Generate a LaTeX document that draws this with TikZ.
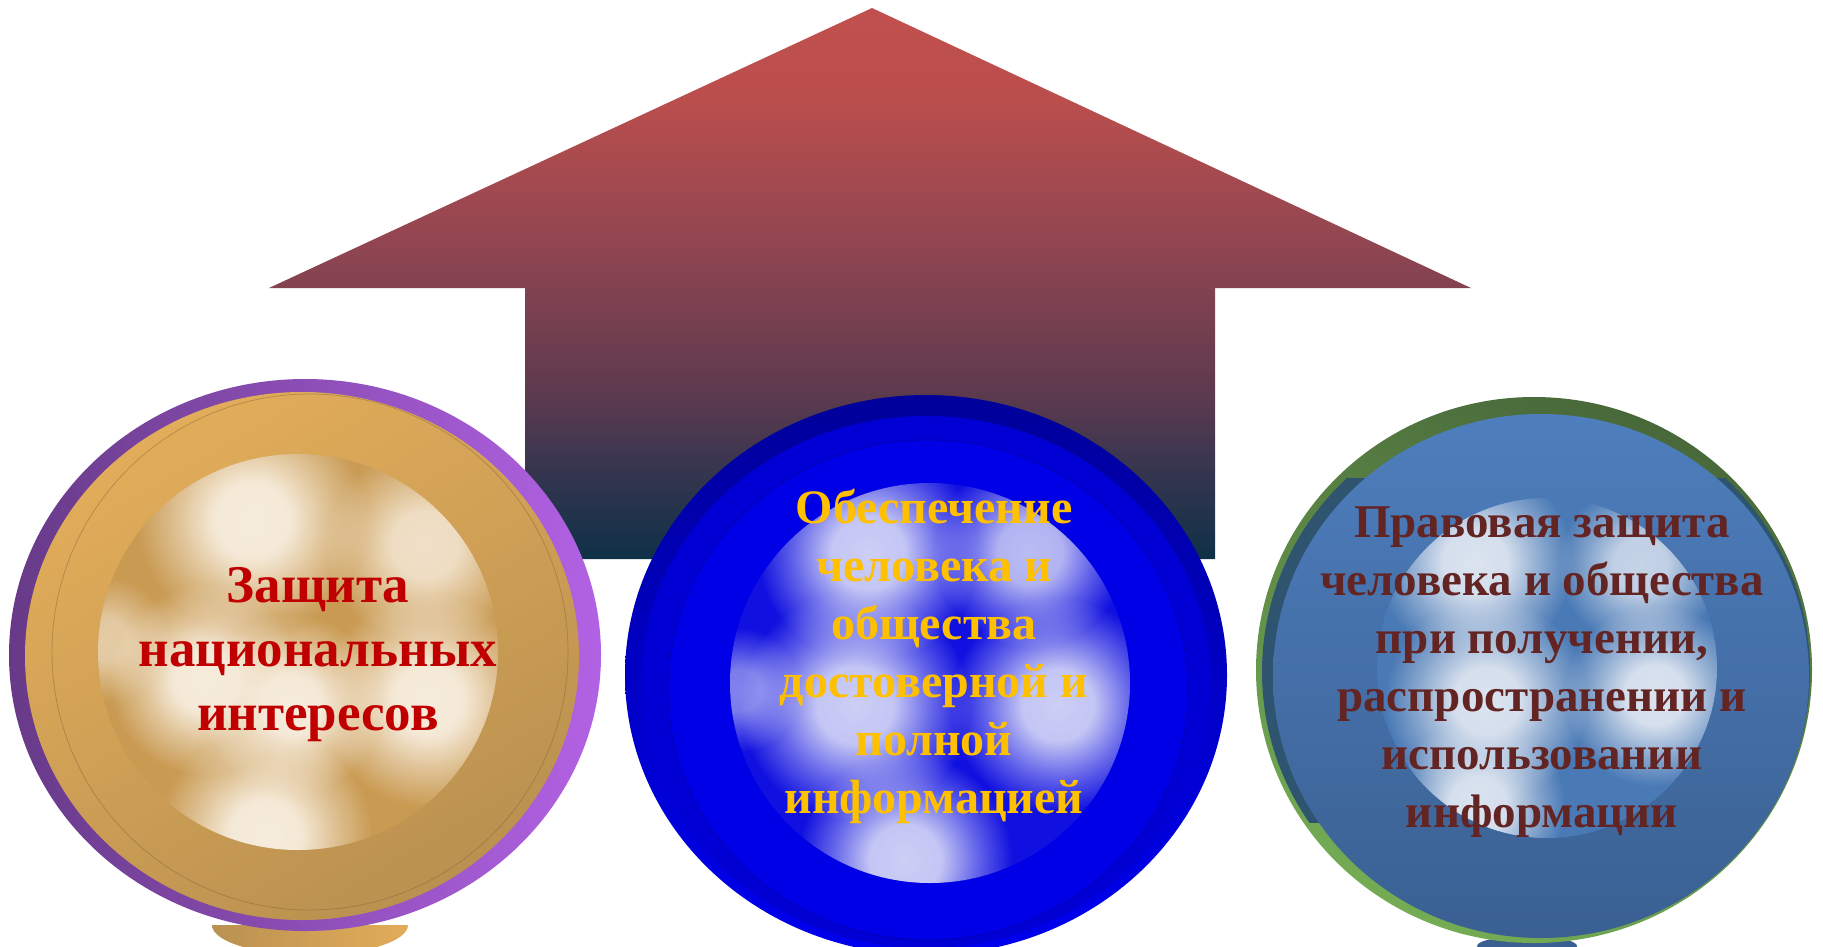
\documentclass[tikz,border=0pt]{standalone}
\usepackage{fontspec}
\setmainfont{Liberation Serif}
\usetikzlibrary{fadings}
\pgfdeclareradialshading{softdiskshade}{\pgfpointorigin}{color(0bp)=(pgftransparent!0); color(8bp)=(pgftransparent!5); color(16bp)=(pgftransparent!55); color(24bp)=(pgftransparent!100); color(50bp)=(pgftransparent!100)}
\pgfdeclarefading{softdisk}{\pgfuseshading{softdiskshade}}
\definecolor{arrowtop}{HTML}{C0504D}
\definecolor{arrowA}{HTML}{BA4E4D}
\definecolor{arrowB}{HTML}{8F4551}
\definecolor{arrowC}{HTML}{5E3A4E}
\definecolor{arrowD}{HTML}{3B3650}
\definecolor{arrowbot}{HTML}{0E3148}
\pgfdeclareverticalshading{arrowshade}{100bp}{color(0bp)=(arrowbot); color(25bp)=(arrowbot); color(34bp)=(arrowD); color(40.3bp)=(arrowC); color(53bp)=(arrowB); color(66.6bp)=(arrowA); color(75bp)=(arrowtop); color(100bp)=(arrowtop)}
\definecolor{purpA}{HTML}{673A88}
\definecolor{purpB}{HTML}{B262E4}
\definecolor{goldA}{HTML}{E2AD5A}
\definecolor{goldB}{HTML}{BA9150}
\definecolor{goldlens}{HTML}{C99A52}
\definecolor{cream}{HTML}{F7EDDD}
\definecolor{navyA}{HTML}{00009A}
\definecolor{navyB}{HTML}{0000F0}
\definecolor{blueA}{HTML}{0000D4}
\definecolor{blueB}{HTML}{0000E6}
\definecolor{bluelens}{HTML}{1010E0}
\definecolor{bluewhite}{HTML}{CDCFF6}
\definecolor{greenA}{HTML}{48683A}
\definecolor{greenB}{HTML}{74AC54}
\definecolor{tealband}{HTML}{2E5470}
\definecolor{steelA}{HTML}{4E7EBD}
\definecolor{steelB}{HTML}{3A6092}
\definecolor{steellens}{HTML}{4A7AB6}
\definecolor{steelwhite}{HTML}{DCE4F0}
\definecolor{txtred}{HTML}{C00000}
\definecolor{txtgold}{HTML}{FFC000}
\definecolor{txtmaroon}{HTML}{632523}
\tikzset{
  lbl/.style={align=center, inner sep=0pt},
  blob/.style={path fading=softdisk, fit fading=true},
}
\begin{document}
\begin{tikzpicture}[x=1pt,y=-1pt]
\useasboundingbox (0,0) rectangle (1823,946);
% arrow
\shade[shading=arrowshade]
  (872,8) -- (1471,288) -- (1215,288) -- (1215,559) -- (525,559) -- (525,288) -- (269,288) -- cycle;

% ---------- left circle ----------
\begin{scope}
  \clip (0,925) rectangle (1823,946);
  \shade[left color=goldB, right color=goldA] (310,925) ellipse [x radius=98, y radius=30];
\end{scope}
\shade[left color=purpA, right color=purpB] (305,655) ellipse [x radius=296, y radius=276];
\shade[top color=goldA, bottom color=goldB, shading angle=30] (302,656) ellipse [x radius=277, y radius=264];
\draw[goldB!70!black, line width=0.8pt, opacity=0.45] (310,652) ellipse [x radius=258, y radius=258];
\begin{scope}
  \clip (298,652) ellipse [x radius=200, y radius=198];
  \fill[goldlens] (298,652) ellipse [x radius=200, y radius=198];
  \fill[cream, blob] (252,520) circle (120);
  \fill[cream, blob, opacity=0.85] (425,545) circle (105);
  \fill[cream, blob] (205,680) circle (100);
  \fill[cream, blob] (292,705) circle (95);
  \fill[cream, blob] (428,700) circle (112);
  \fill[cream, blob] (265,835) circle (112);
  \fill[cream, blob, opacity=0.6] (108,640) circle (65);
\end{scope}
\node[lbl, text=txtred, font=\bfseries\fontsize{53}{64}\selectfont] (tl) at (318,655) {Защита\\национальных\\интересов};

% ---------- middle circle ----------
\shade[top color=navyA, bottom color=navyB] (926,675) ellipse [x radius=301, y radius=280];
\fill[blueA] (926,682) ellipse [x radius=285, y radius=266];
\fill[blueB] (928,690) ellipse [x radius=260, y radius=250];
\draw[navyA, line width=0.8pt, opacity=0.6] (928,690) ellipse [x radius=260, y radius=250];
\begin{scope}
  \clip (930,683) ellipse [x radius=200, y radius=200];
  \fill[bluelens] (930,683) ellipse [x radius=200, y radius=200];
  \fill[bluewhite, blob] (868,553) circle (115);
  \fill[bluewhite, blob, opacity=0.9] (1030,552) circle (100);
  \fill[bluewhite, blob] (855,705) circle (120);
  \fill[bluewhite, blob] (1058,705) circle (112);
  \fill[bluewhite, blob] (905,860) circle (112);
  \fill[bluewhite, blob, opacity=0.6] (740,690) circle (65);
\end{scope}
\node[lbl, text=txtgold, font=\bfseries\fontsize{48}{58}\selectfont] (tm) at (934,656) {Обеспечение\\человека и\\общества\\достоверной и\\полной\\информацией};

% ---------- right circle ----------
\fill[steelB] (1527,946) ellipse [x radius=50, y radius=10];
\shade[top color=greenA, bottom color=greenB, shading angle=-25] (1534,670) ellipse [x radius=278, y radius=273];
\begin{scope}
  \clip (1200,478) rectangle (1823,822);
  \fill[tealband] (1536,672) ellipse [x radius=274, y radius=268];
\end{scope}
\shade[top color=steelA, bottom color=steelB] (1541,676) ellipse [x radius=268, y radius=262];
\begin{scope}
  \clip (1547,668) ellipse [x radius=170, y radius=170];
  \fill[steellens] (1547,668) ellipse [x radius=170, y radius=170];
  \fill[steelwhite, blob] (1475,562) circle (102);
  \fill[steelwhite, blob, opacity=0.85] (1640,565) circle (85);
  \fill[steelwhite, blob] (1487,700) circle (106);
  \fill[steelwhite, blob] (1655,695) circle (95);
  \fill[steelwhite, blob] (1478,805) circle (90);
\end{scope}
\node[lbl, text=txtmaroon, font=\bfseries\fontsize{47}{58}\selectfont] (tr) at (1542,672) {Правовая защита\\человека и общества\\при получении,\\распространении и\\использовании\\информации};
\end{tikzpicture}
\end{document}
